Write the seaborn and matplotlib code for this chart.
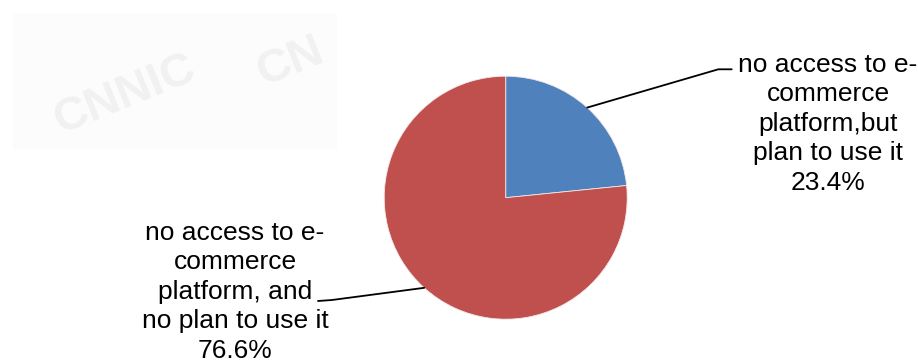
import numpy as np
import matplotlib
matplotlib.use("Agg")
import matplotlib.pyplot as plt
import seaborn as sns
from matplotlib.patches import Rectangle
from matplotlib.lines import Line2D

# ---- data ----
categories = ["no access to e-\ncommerce\nplatform,but\nplan to use it",
              "no access to e-\ncommerce\nplatform, and\nno plan to use it"]
values = [23.4, 76.6]
pct_labels = ["23.4%", "76.6%"]
colors = ["#4F81BD", "#C0504D"]

sns.set_theme(style="white")
plt.rcParams["font.family"] = ["Liberation Sans", "DejaVu Sans"]

W, H = 918, 364
fig = plt.figure(figsize=(W / 100, H / 100), dpi=100)
fig.patch.set_facecolor("white")

# ---- faint watermark (background image in the reference) ----
wm = Rectangle((13 / W, 1 - 150 / H), (337 - 13) / W, (150 - 14) / H,
               transform=fig.transFigure, facecolor="#fcfcfc", edgecolor="none", zorder=0)
fig.add_artist(wm)
for txt, x, y, rot, fsz in [("CNNIC", 125, 95, 22, 34), ("CN", 290, 62, 22, 34)]:
    fig.text(x / W, 1 - y / H, txt, fontsize=fsz, fontweight="bold", color="#f1f1f1",
             rotation=rot, ha="center", va="center", zorder=0.5)

# ---- pie ----
cx, cy, r = 505.7, 197.7, 121.5
ax = fig.add_axes([(cx - r) / W, (H - cy - r) / H, 2 * r / W, 2 * r / H])
wedges, _ = ax.pie(values, colors=colors, startangle=90, counterclock=False, radius=1,
                   wedgeprops=dict(edgecolor="#f4e8e8", linewidth=0.6))
ax.set_xlim(-1, 1)
ax.set_ylim(-1, 1)
ax.set_aspect("equal")
ax.axis("off")

fs = 19.0
label_pos = [(828, 190.0), (235, 358.0)]          # text centre x, last baseline y (px from top)
elbows = [((718.3, 69.3), (731.7, 69.3)), ((332.0, 300.0), (318.0, 301.0))]

for w, cat, pct, (tx, ty), (e1, e2) in zip(wedges, categories, pct_labels, label_pos, elbows):
    mid = np.deg2rad((w.theta1 + w.theta2) / 2)
    ax_pt = ax.transData.transform((np.cos(mid), np.sin(mid)))
    xs = [ax_pt[0], e1[0], e2[0]]
    ys = [ax_pt[1], H - e1[1], H - e2[1]]
    fig.add_artist(Line2D(xs, ys, transform=None, color="black", linewidth=1.3, zorder=5))
    fig.text(tx / W, 1 - ty / H, cat + "\n" + pct, ha="center", va="baseline",
             multialignment="center", fontsize=fs, linespacing=1.29, color="black")

fig.savefig("out.png", dpi=100)
